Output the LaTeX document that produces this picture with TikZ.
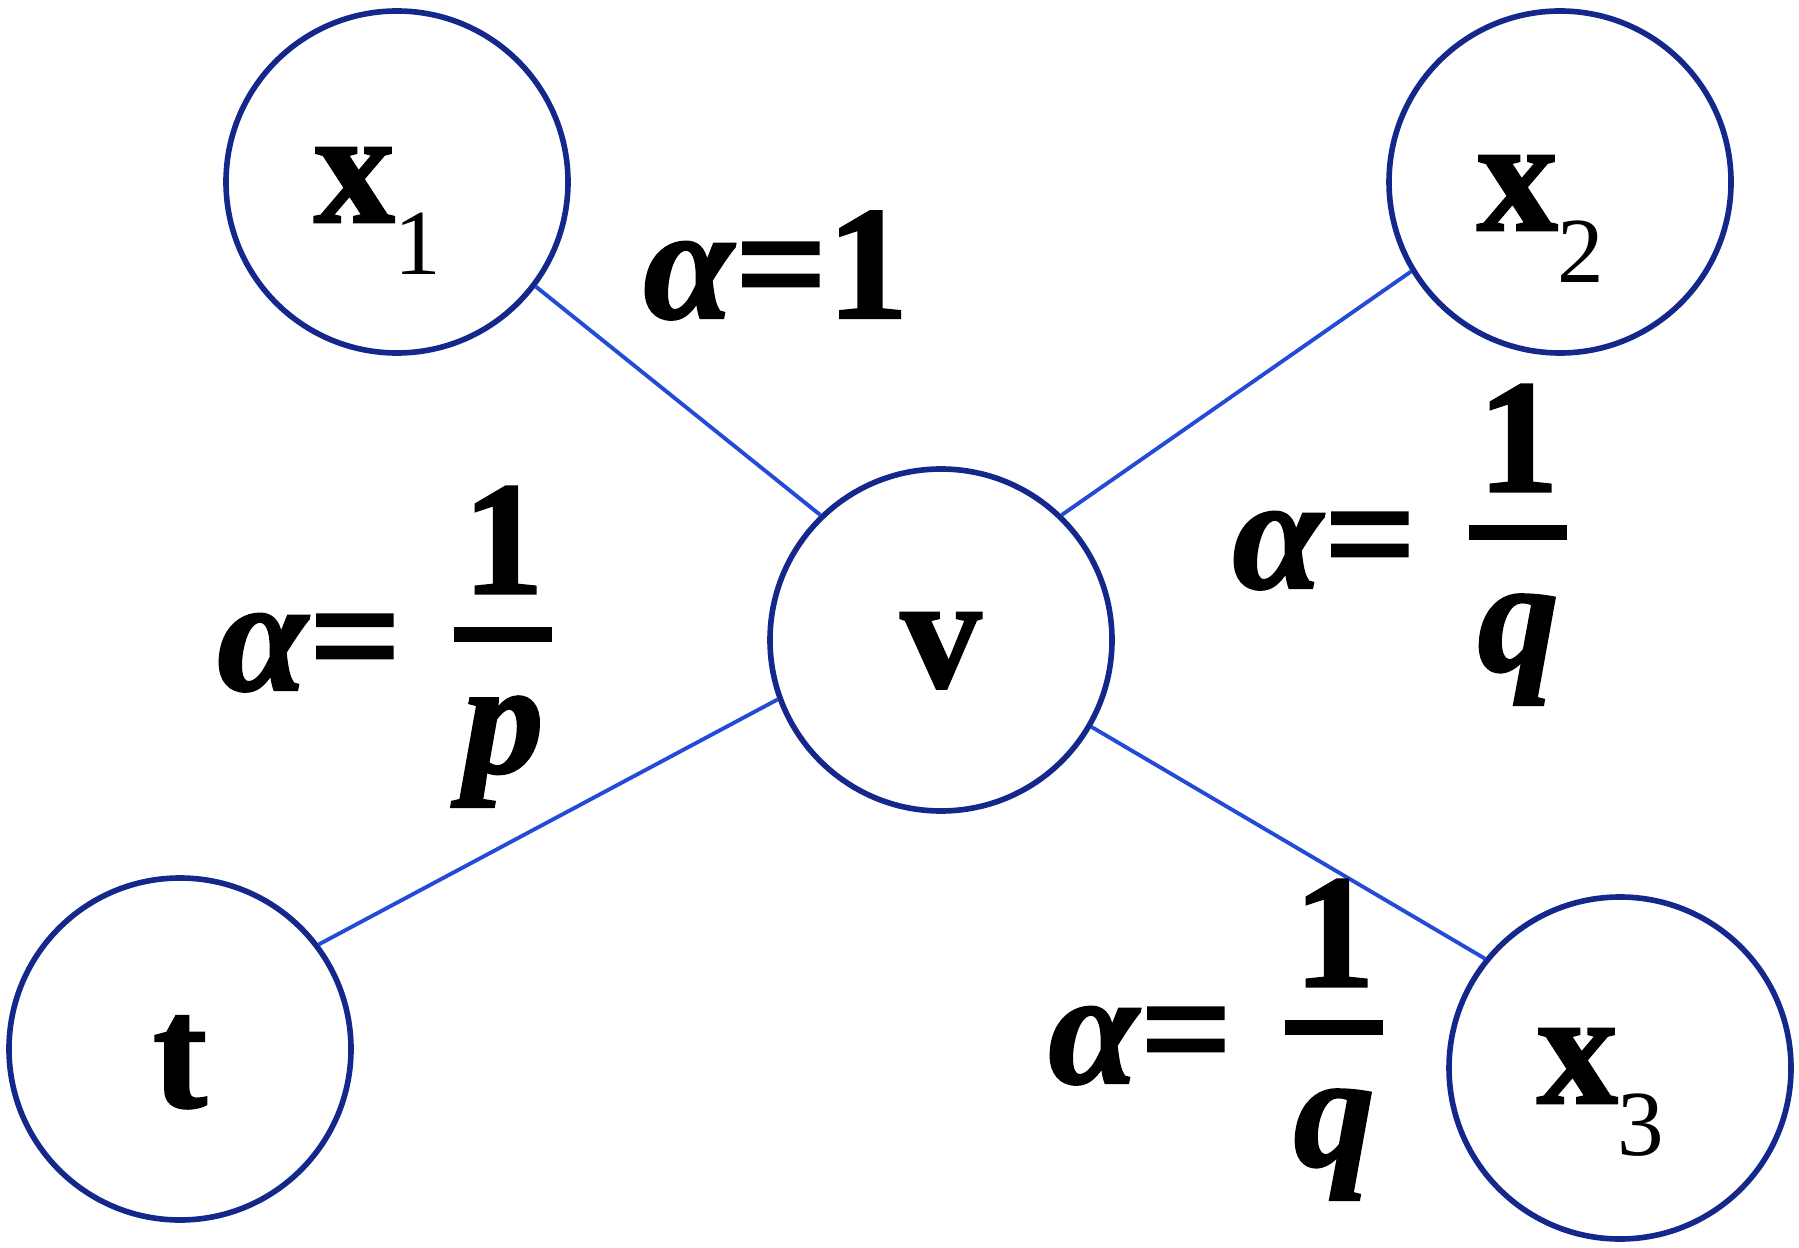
\documentclass[tikz,border=0pt]{standalone}
\usepackage{fontspec}
\setmainfont{Liberation Serif}[BoldFeatures={FakeBold=1.5},BoldItalicFeatures={FakeBold=1.5}]
\usetikzlibrary{calc}
\definecolor{ringblue}{RGB}{20,40,140}
\definecolor{edgeblue}{RGB}{35,75,215}
% subscript in the walk nodes, regular weight, dropped below the baseline
\newcommand{\nsub}[1]{{\fontsize{26.5}{30}\mdseries\selectfont\raisebox{-15pt}{#1}}}
% stacked fraction with a heavy bar
\newcommand{\afrac}[1]{\lower23.5pt\vbox{\hbox to 28pt{\hfil 1\hfil}\kern9.5pt\hrule height 4.3pt width 28pt\kern15.5pt\hbox to 28pt{\hfil\textit{#1}\hfil}}}

\begin{document}
\begin{tikzpicture}[
    vnode/.style={circle, draw=ringblue, line width=1.6pt, minimum size=3.42cm, inner sep=0pt, text height=0pt, text depth=0pt, font=\fontsize{46}{55}\selectfont\bfseries},
    wlab/.style={anchor=base west, inner sep=0pt, font=\fontsize{46}{55}\selectfont\bfseries},
    link/.style={draw=edgeblue, line width=1.1pt},
  ]
  \useasboundingbox (0,0) rectangle (17.99,-12.48);
  % walk nodes
  \node[vnode] (x1) at (3.97,-1.82) {\raisebox{-11.4pt}{x\nsub{1}}\kern11pt};
  \node[vnode] (x2) at (15.60,-1.82) {\raisebox{-13.7pt}{x\nsub{2}}\kern11pt};
  \node[vnode] (v) at (9.41,-6.40) {\raisebox{-13.4pt}{v}};
  \node[vnode] (t) at (1.80,-10.49) {\raisebox{-16.5pt}{t}};
  \node[vnode] (x3) at (16.20,-10.68) {\raisebox{-10pt}{x\nsub{3}}\kern11pt};
  % edges
  \draw[link] (x1.-37) -- (v.134);
  \draw[link] (x2.211) -- (v.46.5);
  \draw[link] (t.37) -- (v.200);
  \draw[link] (v.-30.6) -- (x3.141);
  % weights
  \node[wlab] (w1) at (6.43,-3.18) {\textit{α}=1};
  \node[wlab] (wp) at (2.17,-6.90) {\textit{α}=\kern15pt\afrac{p}};
  \node[wlab] (wq1) at (12.32,-5.88) {\textit{α}=\kern15pt\afrac{q}};
  \node[wlab] (wq2) at (10.48,-10.83) {\textit{α}=\kern15pt\afrac{q}};
\end{tikzpicture}
\end{document}
